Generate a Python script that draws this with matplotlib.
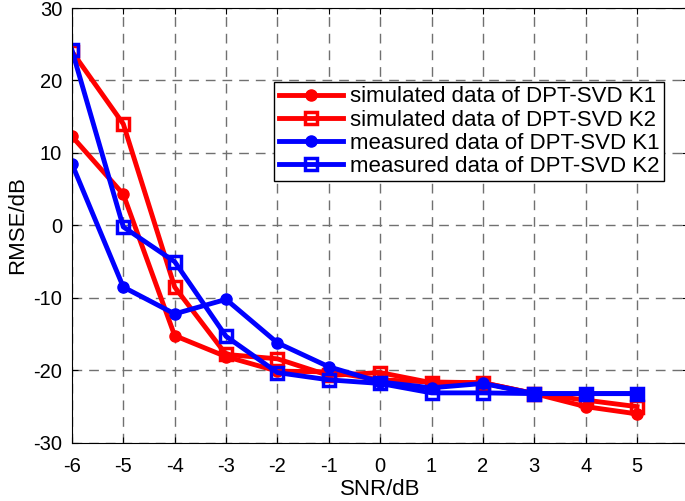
import matplotlib
matplotlib.use('Agg')
import matplotlib.pyplot as plt

plt.rcParams['font.family'] = ['Liberation Sans', 'DejaVu Sans']
plt.rcParams['axes.unicode_minus'] = False

snr = [-6, -5, -4, -3, -2, -1, 0, 1, 2, 3, 4, 5]
sim_k1 = [12.3, 4.3, -15.2, -18.1, -20.1, -20.2, -21.3, -21.6, -21.7, -23.2, -25.0, -26.0]
sim_k2 = [24.0, 14.0, -8.5, -17.8, -18.4, -20.7, -20.3, -21.7, -21.7, -23.2, -24.1, -25.0]
meas_k1 = [8.5, -8.5, -12.2, -10.2, -16.2, -19.5, -21.6, -22.4, -21.8, -23.2, -23.2, -23.2]
meas_k2 = [24.2, -0.2, -5.0, -15.3, -20.3, -21.3, -21.8, -23.1, -23.1, -23.2, -23.2, -23.2]

fig = plt.figure(figsize=(6.85, 5.01), dpi=100)
ax = fig.add_axes([0.105, 0.116, 0.9, 0.868])

ax.plot(snr, sim_k1, '-o', color='#ff0000', lw=3.5, ms=8, label='simulated data of DPT-SVD K1')
ax.plot(snr, sim_k2, '-s', color='#ff0000', lw=3.5, ms=9, mfc='none', mew=2.5, label='simulated data of DPT-SVD K2')
ax.plot(snr, meas_k1, '-o', color='#0000ff', lw=3.5, ms=8, label='measured data of DPT-SVD K1')
ax.plot(snr, meas_k2, '-s', color='#0000ff', lw=3.5, ms=9, mfc='none', mew=2.5, label='measured data of DPT-SVD K2')

ax.set_xlim(-6, 6)
ax.set_ylim(-30, 30)
ax.set_xticks(snr)
ax.set_yticks(range(-30, 31, 10))
ax.tick_params(labelsize=14.5, direction='in', length=4, top=True, right=True)
ax.tick_params(axis='x', pad=10)
ax.tick_params(axis='y', pad=7)
ax.grid(True, linestyle=(0, (7, 5)), color='#707070', lw=1)
ax.set_xlabel('SNR/dB', fontsize=16, labelpad=2)
ax.set_ylabel('RMSE/dB', fontsize=16, labelpad=4)

leg = ax.legend(loc='upper left', bbox_to_anchor=(0.328, 0.83), fontsize=16,
                fancybox=False, edgecolor='black', framealpha=1,
                handlelength=2.9, borderpad=0.2, labelspacing=0.1, handletextpad=0.3,
                borderaxespad=0)
leg.get_frame().set_linewidth(1)

fig.savefig('out.png', dpi=100)
